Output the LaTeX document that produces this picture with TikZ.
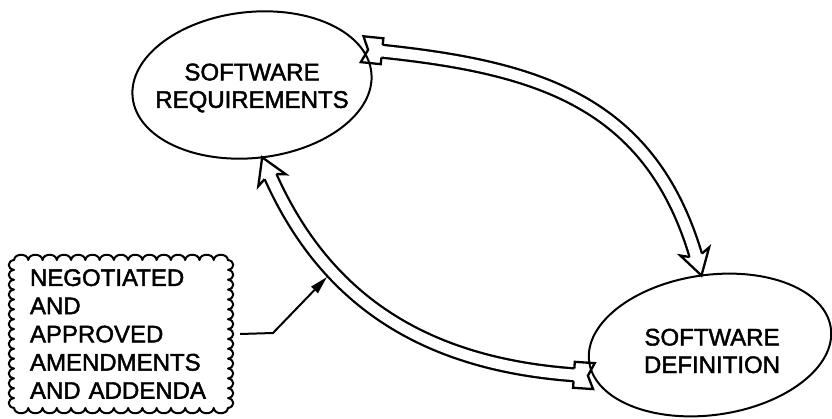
\documentclass[tikz,border=0pt]{standalone}
\usepackage{fontspec}
\setmainfont{Liberation Sans}[UprightFeatures={FakeBold=1.8}]
\usetikzlibrary{shapes.geometric,decorations.markings,arrows.meta,backgrounds}

\tikzset{
  ink/.style={line width=2pt, line join=round},
  bubble/.style={ellipse, draw, ink, inner sep=0pt, outer sep=0pt},
  caption/.style={align=center, inner sep=0pt, font=\fontsize{24}{27.5}\selectfont},
  shaft/.style={line width=2.3pt, double=white, double distance=10.5pt,
                shorten <=15pt, shorten >=15pt},
  headline/.style={line width=2.3pt, line join=miter, line cap=butt},
}

% hollow pointed head, tip at the local origin, pointing along +x
\newcommand\pointhead{%
  \fill[white] (-21pt,6.4pt) -- (-25pt,15pt) -- (0pt,0pt) -- (-25pt,-15pt) -- (-21pt,-6.4pt) -- cycle;
  \draw[headline] (-21pt,6.4pt) -- (-25pt,15pt) -- (0pt,0pt) -- (-25pt,-15pt) -- (-21pt,-6.4pt);}
% hollow blunt head with a notched front
\newcommand\blockhead{%
  \fill[white] (-20pt,6.4pt) -- (-20pt,13pt) -- (0pt,13pt) -- (-6pt,0pt) -- (0pt,-13pt) -- (-20pt,-13pt) -- (-20pt,-6.4pt) -- cycle;
  \draw[headline] (-20pt,6.4pt) -- (-20pt,13pt) -- (0pt,13pt) -- (-6pt,0pt) -- (0pt,-13pt) -- (-20pt,-13pt) -- (-20pt,-6.4pt);}
% a head placed at the start of a path, pointing backwards out of it
\tikzset{
  headat/.style={postaction={decorate}, decoration={markings,
      mark=at position 0 with {\begin{scope}[rotate=180]#1\end{scope}}}},
}

\begin{document}
\begin{tikzpicture}[x=1pt,y=1pt]
\useasboundingbox (0,-419) rectangle (832,0);

% the two activities
\node[bubble, rotate=6, minimum width=240pt, minimum height=146pt] (req) at (252,-85) {};
\node[bubble, rotate=8, minimum width=244pt, minimum height=140pt] (def) at (710,-345) {};
\node[caption] (reqtext) at (252,-88) {SOFTWARE\\REQUIREMENTS};
\node[caption] (deftext) at (712,-351) {SOFTWARE\\DEFINITION};

% note box with scalloped border
\node[align=left, text width=182pt, minimum width=214pt, minimum height=148pt,
      inner sep=0pt, font=\fontsize{24}{28.2}\selectfont] (notes) at (121,-334)
  {NEGOTIATED\\AND\\APPROVED\\AMENDMENTS\\AND ADDENDA};
\draw[ink] (14,-260)
  \foreach \i [evaluate=\i as \xa using {14+(\i-1)*214/15},
               evaluate=\i as \xb using {14+\i*214/15}] in {1,...,15}
    { .. controls (\xa+1,-253) and (\xb-1,-253) .. (\xb,-260) }
  \foreach \i [evaluate=\i as \ya using {-260-(\i-1)*148/15},
               evaluate=\i as \yb using {-260-\i*148/15}] in {1,...,15}
    { .. controls (235,\ya-1) and (235,\yb+1) .. (228,\yb) }
  \foreach \i [evaluate=\i as \xa using {228-(\i-1)*214/15},
               evaluate=\i as \xb using {228-\i*214/15}] in {1,...,15}
    { .. controls (\xa-1,-415) and (\xb+1,-415) .. (\xb,-408) }
  \foreach \i [evaluate=\i as \ya using {-408+(\i-1)*148/15},
               evaluate=\i as \yb using {-408+\i*148/15}] in {1,...,15}
    { .. controls (7,\ya+1) and (7,\yb-1) .. (14,\yb) }
  -- cycle;

\begin{scope}[on background layer]
  % requirements <-> definition, upper loop
  \draw[shaft] (req.12) .. controls (536,-67) and (652,-100) .. (def.89);
  \path[headat=\blockhead] (req.12) .. controls (536,-67) and (652,-100) .. (def.89);
  \path[headat=\pointhead] (def.89) .. controls (652,-100) and (536,-67) .. (req.12);
  % definition <-> requirements, lower loop
  \draw[shaft] (req.272) .. controls (323,-298) and (422,-365) .. (def.187);
  \path[headat=\pointhead] (req.272) .. controls (323,-298) and (422,-365) .. (def.187);
  \path[headat=\blockhead] (def.187) .. controls (422,-365) and (323,-298) .. (req.272);
\end{scope}

% pointer from the note to the lower loop
\coordinate (bend) at (273,-333);
\coordinate (touch) at (327,-277);
\draw[ink, -{Triangle[length=18pt,width=9pt]}] ([xshift=12pt]notes.east) -- (bend) -- (touch);
\end{tikzpicture}
\end{document}
